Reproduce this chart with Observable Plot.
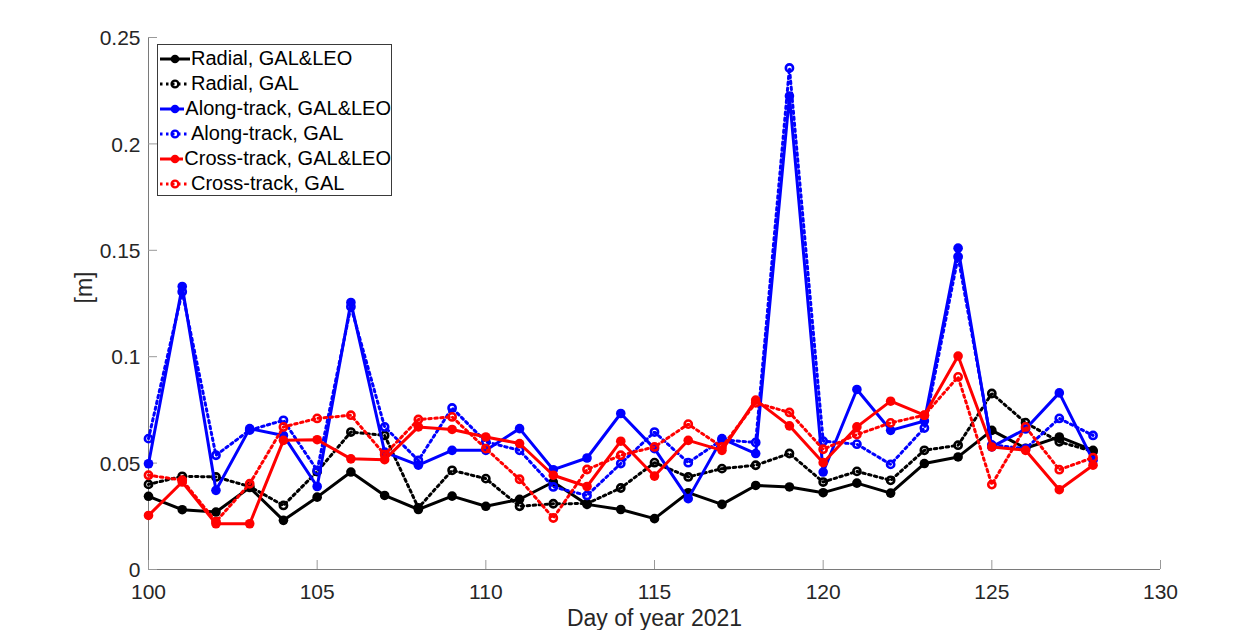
<!DOCTYPE html>
<html><head><meta charset="utf-8">
<script src="https://cdn.jsdelivr.net/npm/d3@7"></script>
<script src="https://cdn.jsdelivr.net/npm/@observablehq/plot@0.6"></script>
<style>
body{margin:0;background:#fff;font-family:"Liberation Sans",Arial,sans-serif;}
#wrap{position:relative;width:1233px;height:630px;overflow:hidden;}
#legend{position:absolute;left:157px;top:44px;width:235px;height:152px;border:1px solid #3a3a3a;background:#fff;box-sizing:border-box;padding-top:1px;}
.row{height:25px;display:flex;align-items:center;font-size:20px;color:#000;white-space:nowrap;}
.row svg{margin-left:2px;margin-right:1px;}
</style></head><body><div id="wrap"></div>
<script>
const days = [100,101,102,103,104,105,106,107,108,109,110,111,112,113,114,115,116,117,118,119,120,121,122,123,124,125,126,127,128];

const radialLeo = [0.0344,0.0281,0.0270,0.0385,0.0231,0.0340,0.0458,0.0348,0.0282,0.0345,0.0297,0.0330,0.0411,0.0306,0.0282,0.0239,0.0361,0.0306,0.0395,0.0388,0.0361,0.0406,0.0359,0.0498,0.0529,0.0654,0.0570,0.0623,0.0560];
const radialGal = [0.0400,0.0438,0.0435,0.0390,0.0301,0.0460,0.0646,0.0630,0.0290,0.0466,0.0427,0.0297,0.0309,0.0310,0.0383,0.0502,0.0435,0.0474,0.0490,0.0545,0.0411,0.0461,0.0419,0.0560,0.0584,0.0827,0.0690,0.0600,0.0555];
const alongLeo  = [0.0497,0.1330,0.0372,0.0662,0.0630,0.0390,0.1255,0.0552,0.0490,0.0560,0.0560,0.0662,0.0469,0.0524,0.0733,0.0568,0.0333,0.0615,0.0545,0.2225,0.0458,0.0846,0.0654,0.0698,0.1510,0.0576,0.0660,0.0830,0.0513];
const alongGal  = [0.0615,0.1305,0.0537,0.0655,0.0701,0.0466,0.1235,0.0670,0.0513,0.0759,0.0600,0.0560,0.0388,0.0348,0.0498,0.0646,0.0502,0.0610,0.0597,0.2357,0.0603,0.0589,0.0494,0.0665,0.1470,0.0585,0.0568,0.0710,0.0630];
const crossLeo  = [0.0254,0.0411,0.0215,0.0215,0.0607,0.0610,0.0520,0.0516,0.0670,0.0658,0.0623,0.0592,0.0443,0.0390,0.0603,0.0439,0.0607,0.0560,0.0796,0.0675,0.0502,0.0670,0.0791,0.0725,0.1003,0.0576,0.0560,0.0375,0.0490];
const crossGal  = [0.0443,0.0420,0.0225,0.0403,0.0670,0.0710,0.0725,0.0540,0.0705,0.0717,0.0568,0.0424,0.0242,0.0470,0.0537,0.0576,0.0683,0.0576,0.0783,0.0738,0.0565,0.0634,0.0689,0.0725,0.0905,0.0399,0.0670,0.0469,0.0526];

const seriesNames = ["Radial, GAL&LEO","Radial, GAL","Along-track, GAL&LEO","Along-track, GAL","Cross-track, GAL&LEO","Cross-track, GAL"];
const seriesValues = [radialLeo, radialGal, alongLeo, alongGal, crossLeo, crossGal];
const seriesColors = ["#000000","#000000","#0000ff","#0000ff","#ff0000","#ff0000"];
const seriesDotted = [false,true,false,true,false,true];

const xTicks = [100,105,110,115,120,125,130];
const xTickLabels = ["100","105","110","115","120","125","130"];
const yTicks = [0,0.05,0.1,0.15,0.2,0.25];
const yTickLabels = ["0","0.05","0.1","0.15","0.2","0.25"];
const xLabel = "Day of year 2021";
const yLabel = "[m]";

const dash = "2.5 3.5";
const axisColor = "#7a7a7a";

const seriesMarks = [];
seriesNames.forEach((name, i) => {
  const data = days.map((d, j) => ({day: d, value: seriesValues[i][j]}));
  seriesMarks.push(Plot.line(data, {x: "day", y: "value", stroke: seriesColors[i], strokeWidth: 3, strokeDasharray: seriesDotted[i] ? dash : null, strokeLinejoin: "miter"}));
  if (seriesDotted[i]) {
    seriesMarks.push(Plot.dot(data, {x: "day", y: "value", r: 3.6, stroke: seriesColors[i], strokeWidth: 2.6, fill: "none"}));
  } else {
    seriesMarks.push(Plot.dot(data, {x: "day", y: "value", r: 4.8, fill: seriesColors[i], stroke: "none"}));
  }
});

const chart = Plot.plot({
  width: 1233, height: 630,
  marginLeft: 148, marginRight: 73, marginTop: 37, marginBottom: 61,
  style: {fontFamily: "'Liberation Sans', Arial, sans-serif", background: "white", color: "#262626", overflow: "visible"},
  x: {domain: [100, 130]},
  y: {domain: [0, 0.25]},
  marks: [
    Plot.ruleX([100], {stroke: axisColor, strokeWidth: 1}),
    Plot.ruleY([0], {stroke: axisColor, strokeWidth: 1}),
    Plot.axisX(xTicks, {tickSize: 9, dy: -9, tickFormat: () => "", label: null, stroke: "#999"}),
    Plot.axisY(yTicks, {tickSize: 9, dx: 9, tickFormat: () => "", label: null, stroke: "#999"}),
    Plot.axisX(xTicks, {tickSize: 0, tickPadding: 15, fontSize: 21, label: null, tickFormat: d => xTickLabels[xTicks.indexOf(d)], fill: "#262626"}),
    Plot.axisY(yTicks, {tickSize: 0, tickPadding: 8, fontSize: 21, dy: 1, label: null, tickFormat: d => yTickLabels[yTicks.indexOf(d)], fill: "#262626"}),
    Plot.text([xLabel], {frameAnchor: "bottom", dy: 56, fontSize: 23, fill: "#262626"}),
    Plot.text([yLabel], {frameAnchor: "left", dx: -64, rotate: -90, fontSize: 23, fill: "#262626"}),
    ...seriesMarks
  ]
});

const wrap = document.getElementById("wrap");
wrap.appendChild(chart);

const legend = document.createElement("div");
legend.id = "legend";
seriesNames.forEach((name, i) => {
  const row = document.createElement("div");
  row.className = "row";
  const c = seriesColors[i];
  const marker = seriesDotted[i]
    ? `<circle cx="15" cy="8" r="3.4" fill="none" stroke="${c}" stroke-width="2.4"/>`
    : `<circle cx="15" cy="8" r="4.3" fill="${c}"/>`;
  row.innerHTML = `<svg width="30" height="16"><line x1="0" y1="8" x2="30" y2="8" stroke="${c}" stroke-width="3" ${seriesDotted[i] ? `stroke-dasharray="${dash}"` : ""}/>${marker}</svg><span>${name}</span>`;
  legend.appendChild(row);
});
wrap.appendChild(legend);
</script></body></html>
